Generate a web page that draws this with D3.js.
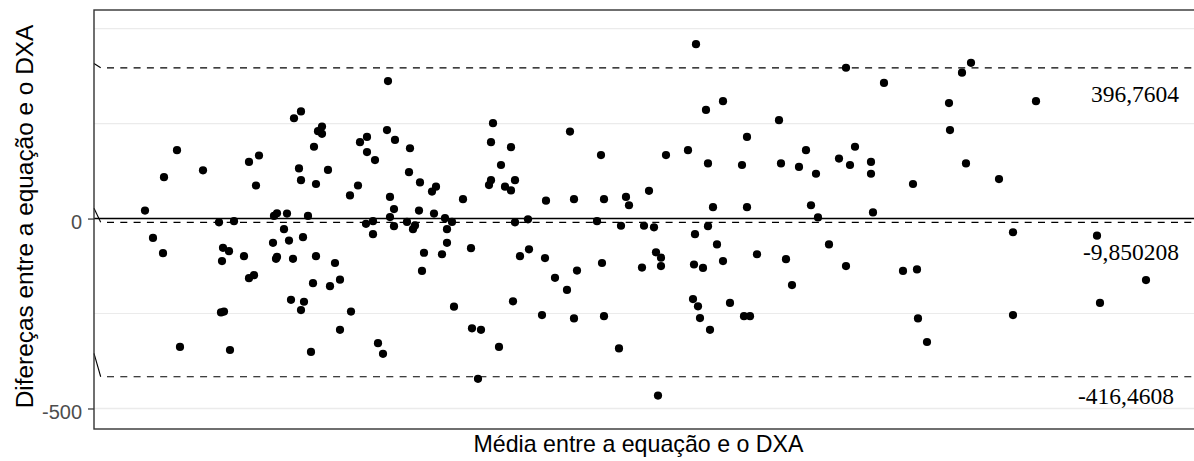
<!DOCTYPE html>
<html><head><meta charset="utf-8">
<script src="https://cdn.jsdelivr.net/npm/d3@7"></script>
<style>html,body{margin:0;padding:0;background:#fff;overflow:hidden}</style>
</head><body><svg id="chart" width="1194" height="461"></svg>
<script>
// Bland-Altman: mean of the two methods vs their difference
const meanValues = [
  51,59,69,70,83,86,109,125,140,127,130,129,135,128,150,136,155,165,162,155,160,179,180,183,193,190,195,182,183,199,197,200,207,205,207,209,207,210,
  214,222,219,217,220,224,228,228,222,234,241,236,246,246,257,256,264,266,273,273,281,272,279,279,284,289,294,293,301,296,300,296,300,315,316,313,319,321,325,326,330,328,340,338,342,348,351,353,358,353,360,369,377,378,387,384,395,397,397,399,407,411,417,417,421,421,419,405,426,435,434,451,452,461,448,473,476,480,483,480,503,
  507,510,508,510,525,527,532,535,555,548,550,560,562,567,567,564,572,594,602,601,600,609,599,604,606,616,612,629,614,619,614,623,629,636,648,653,653,650,656,663,685,687,692,698,705,712,717,722,724,735,745,752,752,756,761,777,777,779,790,809,
  819,823,824,833,855,856,868,877,872,905,919,919,942,1003,1006,1052
];
const diffValues = [
  21,-51,-91,109,180,-338,127,-10,-7,-247,-245,-77,-86,-112,-99,-346,149,166,87,-157,-149,-64,7,14,13,-28,-58,-106,-101,-106,-214,264,282,132,101,-49,-241,-219,
  7,-99,-170,-351,189,230,242,223,91,128,-117,-178,-161,-293,-245,61,87,201,215,175,154,-14,-7,-41,-328,-356,362,233,207,57,25,4,-20,122,185,-9,-28,-18,21,95,-90,-138,13,71,84,-94,1,-28,-9,-64,-232,51,-78,-289,-293,-422,88,101,201,251,141,84,74,188,101,-10,-218,-338,-99,-81,-2,-104,47,-156,-254,-188,229,51,-137,-263,-7,
  167,51,-117,-257,-342,-19,57,35,73,-129,-19,-23,-89,-103,-125,-466,167,180,459,-41,-121,-130,-212,-231,-262,-293,286,309,145,30,-20,-68,-112,-222,141,215,30,-257,-257,-94,259,145,-107,-175,136,180,35,118,3,-68,158,397,-125,141,189,149,118,16,357,-138,
  91,-134,-263,-325,304,233,384,410,145,104,-36,-254,309,-45,-222,-162
];

// limits of agreement and mean difference
const limitValues = [396.7604, -9.850208, -416.4608];
const limitLabels = ["396,7604", "-9,850208", "-416,4608"];
const labelX = [1085, 1085, 1080];
const labelY = [307, -109, -489];
const leaderStartY = [408, 27, -355];
const leaderEndX = 6.7;

const yTickValues = [0, -500];
const yGridMajor = [-500, 0, 500];
const yGridMinor = [-250, 250];
const xTitle = "Média entre a equação e o DXA";
const yTitle = "Difereças entre a equação e o DXA";

const svg = d3.select("#chart");
const panelLeft = 94, panelTop = 10, panelBottom = 429, panelRight = 1200;

const x = d3.scaleLinear().domain([0, 1106]).range([panelLeft, panelRight]);
const y = d3.scaleLinear().domain([-554, 549]).range([panelBottom, panelTop]);

// background grid
const grid = svg.append("g");
grid.selectAll("line.minor").data(yGridMinor).join("line")
  .attr("class", "minor")
  .attr("x1", panelLeft).attr("x2", panelRight)
  .attr("y1", d => y(d)).attr("y2", d => y(d))
  .attr("stroke", "#ebebeb").attr("stroke-width", 1.1);
grid.selectAll("line.major").data(yGridMajor).join("line")
  .attr("class", "major")
  .attr("x1", panelLeft).attr("x2", panelRight)
  .attr("y1", d => y(d)).attr("y2", d => y(d))
  .attr("stroke", "#ebebeb").attr("stroke-width", 1.3);

// zero reference
svg.append("line")
  .attr("x1", panelLeft).attr("x2", panelRight)
  .attr("y1", y(0)).attr("y2", y(0))
  .attr("stroke", "#000").attr("stroke-width", 1.5);

// short leaders into each limit line
svg.append("g").selectAll("line").data(limitValues).join("line")
  .attr("x1", x(0)).attr("y1", (d, i) => y(leaderStartY[i]))
  .attr("x2", x(leaderEndX)).attr("y2", d => y(d))
  .attr("stroke", "#000").attr("stroke-width", 1.1);

// dashed limit lines
svg.append("g").selectAll("line").data(limitValues).join("line")
  .attr("x1", x(leaderEndX)).attr("x2", panelRight)
  .attr("y1", d => y(d)).attr("y2", d => y(d))
  .attr("stroke", "#000").attr("stroke-width", 1.2)
  .attr("stroke-dasharray", "7,6.3").attr("stroke-dashoffset", 7);

// points
svg.append("g").selectAll("circle").data(meanValues).join("circle")
  .attr("cx", d => x(d))
  .attr("cy", (d, i) => y(diffValues[i]))
  .attr("r", 4.1)
  .attr("fill", "#000");

// value labels
svg.append("g").selectAll("text").data(limitLabels).join("text")
  .attr("x", (d, i) => x(labelX[i]))
  .attr("y", (d, i) => y(labelY[i]))
  .attr("text-anchor", "end")
  .attr("font-family", "'Liberation Serif', 'Times New Roman', serif")
  .attr("font-size", 23.5)
  .attr("fill", "#000")
  .text(d => d);

// panel border
svg.append("rect")
  .attr("x", panelLeft).attr("y", panelTop)
  .attr("width", panelRight - panelLeft).attr("height", panelBottom - panelTop)
  .attr("fill", "none").attr("stroke", "#333333").attr("stroke-width", 1.4);

// y axis
const yAxis = svg.append("g")
  .attr("transform", `translate(${panelLeft},0)`)
  .call(d3.axisLeft(y).tickValues(yTickValues).tickSize(6).tickPadding(6).tickFormat(d => String(d)));
yAxis.select(".domain").remove();
yAxis.selectAll(".tick line").attr("stroke", "#333333").attr("stroke-width", 1.2);
yAxis.selectAll(".tick text")
  .attr("fill", "#4d4d4d")
  .attr("font-family", "'Liberation Sans', Arial, sans-serif")
  .attr("font-size", 20)
  .attr("dy", "0.52em");

// axis titles
svg.append("text")
  .attr("x", 638.5).attr("y", 452)
  .attr("text-anchor", "middle")
  .attr("font-family", "'Liberation Sans', Arial, sans-serif")
  .attr("font-size", 23.2)
  .attr("fill", "#000")
  .text(xTitle);

svg.append("text")
  .attr("transform", `translate(33,216.5) rotate(-90)`)
  .attr("text-anchor", "middle")
  .attr("font-family", "'Liberation Sans', Arial, sans-serif")
  .attr("font-size", 24.4)
  .attr("fill", "#000")
  .text(yTitle);
</script>
</body></html>
